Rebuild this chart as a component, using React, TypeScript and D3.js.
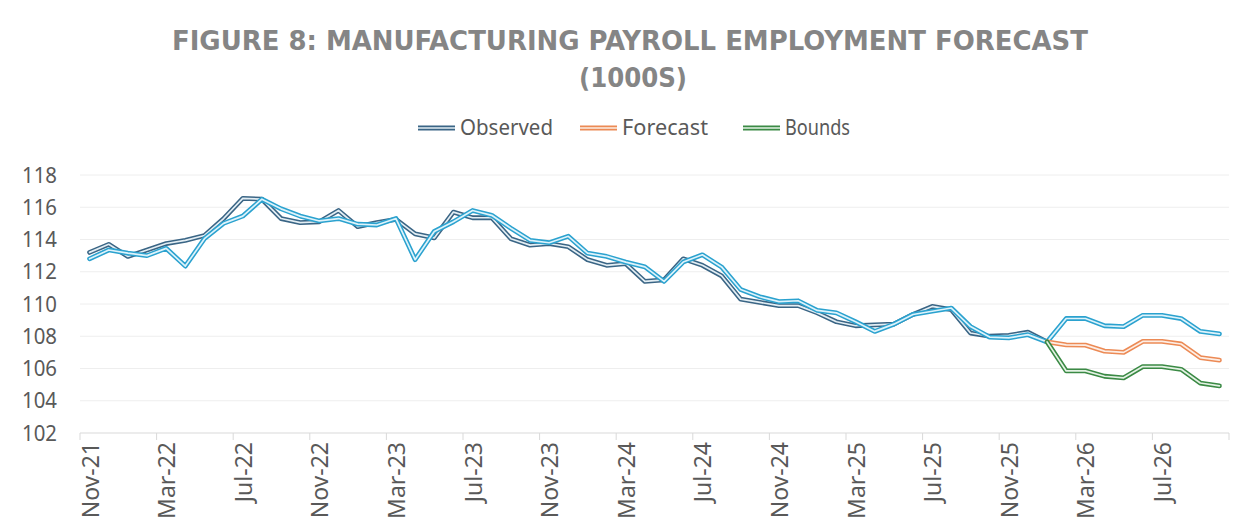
import * as d3 from "d3";
import React from "react";

// monthly categories Nov-21 .. Oct-26
const months = d3.timeMonth.range(new Date(2021, 10, 1), new Date(2026, 10, 1));
const fmt = d3.timeFormat("%b-%y");

// observed (dark), Nov-21 .. Jan-26
const observed = [
	113.2, 113.7, 112.95, 113.35, 113.75, 113.95, 114.25, 115.3, 116.55, 116.5,
	115.3, 115.05, 115.1, 115.8, 114.8, 115.05, 115.25, 114.35, 114.1, 115.7,
	115.35, 115.35, 114.05, 113.65, 113.75, 113.55, 112.75, 112.4, 112.5, 111.4,
	111.5, 112.8, 112.4, 111.75, 110.3, 110.1, 109.9, 109.9, 109.45, 108.9,
	108.65, 108.7, 108.75, 109.35, 109.85, 109.65, 108.2, 108.0, 108.05, 108.25,
	107.65,
];

// light blue series, Nov-21 .. Oct-26 (continues as the upper bound)
const upper = [
	112.8, 113.35, 113.15, 113.0, 113.45, 112.35, 114.05, 115.0, 115.45, 116.5,
	115.9, 115.45, 115.15, 115.3, 114.95, 114.9, 115.3, 112.75, 114.5, 115.1,
	115.8, 115.5, 114.7, 113.95, 113.8, 114.2, 113.15, 112.95, 112.6, 112.3,
	111.4, 112.6, 113.05, 112.3, 110.9, 110.45, 110.15, 110.2, 109.6, 109.45,
	108.9, 108.3, 108.75, 109.35, 109.55, 109.75, 108.6, 107.95, 107.9, 108.1,
	107.65, 109.1, 109.1, 108.65, 108.6, 109.3, 109.3, 109.1, 108.3, 108.15,
];

// forecast and lower bound, Jan-26 .. Oct-26
const forecastStart = 50;
const forecast = [107.65, 107.47, 107.45, 107.08, 107.0, 107.68, 107.68, 107.52, 106.68, 106.52];
const lower = [107.65, 105.85, 105.85, 105.52, 105.42, 106.12, 106.12, 105.95, 105.1, 104.92];

const yTicks = [102, 104, 106, 108, 110, 112, 114, 116, 118];

const legendItems = [
	{ name: "Observed", outer: "#3a6585", inner: "#e3eef4", x: 418, len: 93 },
	{ name: "Forecast", outer: "#ec8a55", inner: "#fdeee5", x: 580, len: 86 },
	{ name: "Bounds", outer: "#3b8a45", inner: "#e4f2e4", x: 743, len: 65 },
];

const W = 1250;
const H = 529;
const font = "'Noto Sans', 'Open Sans', sans-serif";
const titleFont = "'Liberation Sans Narrow', 'DejaVu Sans Condensed', 'Noto Sans', sans-serif";

export default function App() {
	const x = d3
		.scaleBand<number>()
		.domain(d3.range(months.length))
		.range([80, 1229])
		.padding(0);
	const cx = (i: number) => (x(i) as number) + x.bandwidth() / 2;
	const y = d3.scaleLinear().domain([102, 118]).range([433, 175]);

	const line = d3
		.line<[number, number]>()
		.x((d) => cx(d[0]))
		.y((d) => y(d[1]));

	const obsPts = observed.map((v, i) => [i, v] as [number, number]);
	const upPts = upper.map((v, i) => [i, v] as [number, number]);
	const fcPts = forecast.map((v, i) => [i + forecastStart, v] as [number, number]);
	const loPts = lower.map((v, i) => [i + forecastStart, v] as [number, number]);

	// double line like Excel's compound stroke
	const dbl = (pts: [number, number][], outer: string, inner: string) => (
		<g fill="none" strokeLinejoin="round" strokeLinecap="round">
			<path d={line(pts) ?? ""} stroke={outer} strokeWidth={4.8} />
			<path d={line(pts) ?? ""} stroke={inner} strokeWidth={1.7} />
		</g>
	);

	const tickIdx = d3.range(0, months.length + 1, 4);
	const labelIdx = d3.range(0, months.length, 4);

	return (
		<svg
			width={W}
			height={H}
			style={{ position: "absolute", left: 0, top: 0, display: "block", background: "#fff" }}
		>
			<text
				x={630}
				y={50}
				textAnchor="middle"
				fontFamily={titleFont}
				fontWeight={700}
				fontSize={27}
				fill="#858585"
				textLength={916}
				lengthAdjust="spacingAndGlyphs"
			>
				FIGURE 8: MANUFACTURING PAYROLL EMPLOYMENT FORECAST
			</text>
			<text
				x={633}
				y={87}
				textAnchor="middle"
				fontFamily={titleFont}
				fontWeight={700}
				fontSize={27}
				fill="#858585"
				textLength={108}
				lengthAdjust="spacingAndGlyphs"
			>
				(1000S)
			</text>

			{legendItems.map((l) => (
				<g key={l.name}>
					<line x1={l.x} x2={l.x + 37} y1={128} y2={128} stroke={l.outer} strokeWidth={4.8} />
					<line x1={l.x} x2={l.x + 37} y1={128} y2={128} stroke={l.inner} strokeWidth={1.7} />
					<text
						x={l.x + 42}
						y={135}
						fontFamily={font}
						fontSize={21}
						fill="#595959"
						textLength={l.len}
						lengthAdjust="spacingAndGlyphs"
					>
						{l.name}
					</text>
				</g>
			))}

			{yTicks.map((t) => (
				<g key={t}>
					{t > 102 && (
						<line x1={80} x2={1229} y1={y(t)} y2={y(t)} stroke="#eeeeee" strokeWidth={1} />
					)}
					<text
						x={57}
						y={y(t) + 7.5}
						textAnchor="end"
						fontFamily={font}
						fontSize={21}
						fill="#595959"
						textLength={35}
						lengthAdjust="spacingAndGlyphs"
					>
						{t}
					</text>
				</g>
			))}

			<line x1={80} x2={1229} y1={433} y2={433} stroke="#d9d9d9" />
			{tickIdx.map((i) => {
				const tx = i < months.length ? (x(i) as number) : 1229;
				return <line key={i} x1={tx} x2={tx} y1={433} y2={440} stroke="#d9d9d9" />;
			})}
			{labelIdx.map((i) => (
				<text
					key={i}
					transform={`translate(${cx(i) + 9},442) rotate(-90)`}
					textAnchor="end"
					fontFamily={font}
					fontSize={23}
					fill="#595959"
				>
					{fmt(months[i])}
				</text>
			))}

			{dbl(obsPts, "#3a6585", "#e3eef4")}
			{dbl(upPts, "#2ba2cf", "#def3fb")}
			{dbl(fcPts, "#ec8a55", "#fdeee5")}
			{dbl(loPts, "#3b8a45", "#e4f2e4")}
		</svg>
	);
}
